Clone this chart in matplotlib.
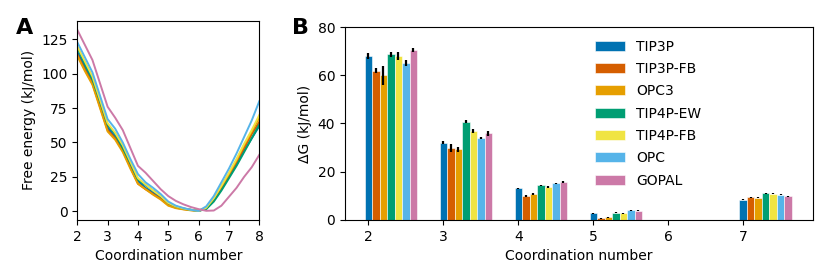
import matplotlib
matplotlib.use("Agg")
import matplotlib.pyplot as plt
import numpy as np

# panel A: free energy profiles
coord = [2.0, 2.25, 2.5, 2.75, 3.0, 3.25, 3.5, 3.75, 4.0, 4.25, 4.5, 4.75,
         5.0, 5.25, 5.5, 5.75, 6.0, 6.25, 6.5, 6.75, 7.0, 7.25, 7.5, 7.75, 8.0]
fe_tip3p = [116, 105, 95, 78, 61, 54, 45, 33, 22, 17, 13.5, 10, 5.5, 3, 1.8, 1, 0.2, 2, 8, 16, 25, 34, 44, 53, 62]
fe_tip3pfb = [114, 103, 93, 76, 59, 53, 44, 32, 20, 16, 12.5, 9, 4.5, 2.5, 1.5, 0.8, 0.2, 2.5, 9, 17, 26, 36, 46, 56, 65]
fe_opc3 = [113, 102, 92, 75, 58, 52, 43, 31, 20, 16, 12, 8.5, 4, 2.2, 1.3, 0.6, 0.3, 2.8, 9.5, 18, 27, 37, 48, 58, 68]
fe_tip4pew = [119, 107, 96, 80, 63, 56, 46, 35, 23, 19, 15, 11, 6, 3.5, 2, 1, 0.3, 1.5, 7, 15, 24, 33, 43, 53, 63]
fe_tip4pfb = [120, 109, 98, 81, 64, 57, 48, 36, 24, 19.5, 15, 11, 6, 3.5, 2, 1, 0.2, 2.5, 9.5, 18.5, 28, 38, 49, 59, 70]
fe_opc = [123, 112, 101, 84, 67, 60, 50, 38, 27, 21, 17, 12.5, 7, 4, 2.3, 1, 0.2, 3.5, 11, 21, 31, 42, 54, 66, 80]
fe_gopal = [132, 121, 110, 93, 76, 68, 59, 46, 33, 28, 22, 16, 11, 7.5, 5, 3, 1.5, 0.3, 0.5, 4, 10.5, 17, 25, 32, 41]

# panel B: barrier heights
groups = [2, 3, 4, 5, 6, 7]
models = ["TIP3P", "TIP3P-FB", "OPC3", "TIP4P-EW", "TIP4P-FB", "OPC", "GOPAL"]
colors = ["#0072B2", "#D55E00", "#E69F00", "#009E73", "#F0E442", "#56B4E9", "#CC79A7"]
dg_tip3p = [68.0, 32.1, 13.1, 2.8, 0, 8.3]
dg_tip3pfb = [61.9, 29.8, 9.9, 0.8, 0, 9.5]
dg_opc3 = [60.0, 29.3, 10.8, 1.1, 0, 9.3]
dg_tip4pew = [68.7, 40.8, 14.4, 3.0, 0, 11.1]
dg_tip4pfb = [68.0, 36.9, 13.7, 2.8, 0, 10.9]
dg_opc = [65.0, 34.1, 15.3, 4.0, 0, 10.4]
dg_gopal = [70.5, 35.9, 15.8, 3.9, 0, 9.8]
err_tip3p = [1.2, 0.8, 0.3, 0.2, 0, 0.2]
err_tip3pfb = [1.0, 1.5, 0.3, 0.2, 0, 0.2]
err_opc3 = [4.0, 1.0, 0.3, 0.2, 0, 0.2]
err_tip4pew = [1.0, 0.7, 0.3, 0.2, 0, 0.2]
err_tip4pfb = [1.5, 1.0, 0.3, 0.2, 0, 0.2]
err_opc = [1.3, 0.5, 0.2, 0.2, 0, 0.2]
err_gopal = [0.8, 1.0, 0.3, 0.2, 0, 0.2]

fe_all = [fe_tip3p, fe_tip3pfb, fe_opc3, fe_tip4pew, fe_tip4pfb, fe_opc, fe_gopal]
dg_all = [dg_tip3p, dg_tip3pfb, dg_opc3, dg_tip4pew, dg_tip4pfb, dg_opc, dg_gopal]
err_all = [err_tip3p, err_tip3pfb, err_opc3, err_tip4pew, err_tip4pfb, err_opc, err_gopal]

plt.rcParams["font.size"] = 10

fig = plt.figure(figsize=(8.3, 2.79), dpi=100)
axA = fig.add_axes([0.0931, 0.2115, 0.2193, 0.7143])
axB = fig.add_axes([0.4157, 0.2115, 0.5638, 0.6917])

for vals, c in zip(fe_all, colors):
    axA.plot(coord, vals, color=c, lw=1.4)
axA.set_xlim(2, 8)
axA.set_xticks([2, 3, 4, 5, 6, 7, 8])
axA.set_yticks([0, 25, 50, 75, 100, 125])
axA.set_xlabel("Coordination number")
axA.set_ylabel("Free energy (kJ/mol)")

width = 0.1
x = np.array(groups, dtype=float)
for i, (vals, errs, c, m) in enumerate(zip(dg_all, err_all, colors, models)):
    axB.bar(x + i * width, vals, width, color=c, edgecolor="white", linewidth=0.4,
            yerr=errs, error_kw=dict(ecolor="black", elinewidth=1.6, capsize=0),
            label=m)
axB.set_xlim(1.69, 7.93)
axB.set_ylim(0, 80)
axB.set_xticks(groups)
axB.set_yticks([0, 20, 40, 60, 80])
axB.set_xlabel("Coordination number")
axB.set_ylabel("ΔG (kJ/mol)")
axB.legend(frameon=False, loc="upper left", bbox_to_anchor=(0.507, 1.0),
           labelspacing=0.6, handlelength=2.2)

fig.text(16 / 830, 1 - 34 / 279, "A", fontsize=16, fontweight="bold", va="baseline")
fig.text(292 / 830, 1 - 34 / 279, "B", fontsize=16, fontweight="bold", va="baseline")

fig.savefig("out.png", dpi=100)
